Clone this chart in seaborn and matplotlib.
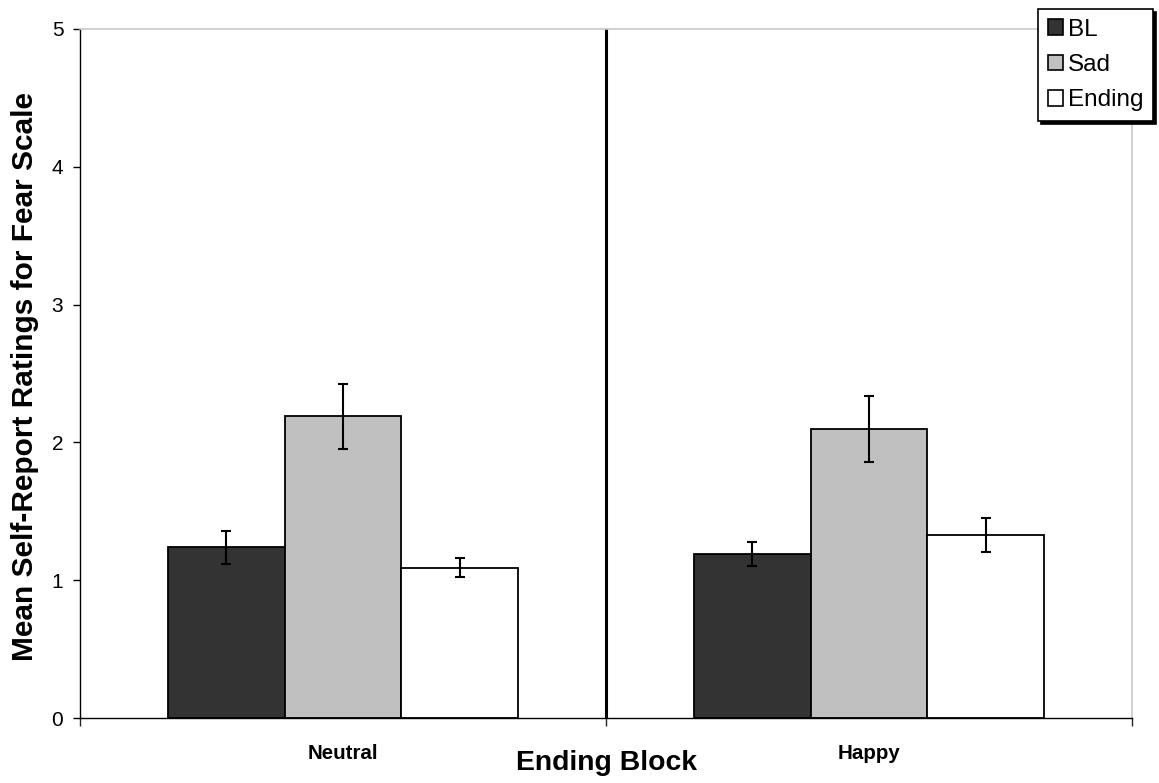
import pandas as pd
import matplotlib.pyplot as plt
import seaborn as sns
from matplotlib.patches import Patch

# --- data ---
blocks = ["Neutral", "Happy"]
phases = ["BL", "Sad", "Ending"]
bl_means = [1.24, 1.19]
sad_means = [2.19, 2.10]
end_means = [1.09, 1.33]
bl_err = [0.12, 0.09]
sad_err = [0.235, 0.24]
end_err = [0.07, 0.125]
colors = ["#333333", "#c0c0c0", "#ffffff"]

df = pd.DataFrame({
    "block": blocks * 3,
    "phase": [p for p in phases for _ in blocks],
    "mean": bl_means + sad_means + end_means,
    "err": bl_err + sad_err + end_err,
})

sns.set_theme(style="white")
plt.rcParams["font.family"] = ["Liberation Sans", "DejaVu Sans"]

fig = plt.figure(figsize=(11.59, 7.83), dpi=100)
ax = fig.add_axes([80 / 1159, 1 - 718 / 783, (1132 - 80) / 1159, (718 - 29) / 783])

sns.barplot(data=df, x="block", y="mean", hue="phase", order=blocks,
            hue_order=phases, palette=colors, width=0.667, errorbar=None,
            edgecolor="black", linewidth=1.3, saturation=1, legend=False, ax=ax)

# error bars centred on each drawn bar
for bar, (_, row) in zip(ax.patches, df.iterrows()):
    xc = bar.get_x() + bar.get_width() / 2
    ax.errorbar(xc, bar.get_height(), yerr=row["err"], fmt="none",
                ecolor="black", elinewidth=1.5, capsize=3.8, capthick=1.5)

ax.set_xlim(-0.5, 1.5)
ax.set_ylim(0, 5)
ax.set_yticks(range(6))
ax.axvline(0.5, color="black", linewidth=2.2)

for side in ["top", "right"]:
    ax.spines[side].set_color("#c8c8c8")
    ax.spines[side].set_linewidth(1.2)
for side in ["left", "bottom"]:
    ax.spines[side].set_color("black")
    ax.spines[side].set_linewidth(1.0)

ax.tick_params(axis="y", left=True, direction="out", length=5, width=1,
               labelsize=15, pad=7, colors="black")
ax.tick_params(axis="x", bottom=False, length=0, labelsize=14.8, pad=18.5,
               colors="black")
for lab in ax.get_xticklabels():
    lab.set_fontweight("bold")
ax.set_xticks([-0.5, 0.5, 1.5], minor=True)
ax.tick_params(axis="x", which="minor", bottom=True, direction="out",
               length=6, width=1)

ax.set_xlabel("Ending Block", fontsize=20.4, fontweight="bold", color="black")
ax.xaxis.set_label_coords(0.5, -(770 - 718) / 689)
ax.xaxis.label.set_verticalalignment("baseline")
ax.set_ylabel("Mean Self-Report Ratings for Fear Scale", fontsize=21.5,
              fontweight="bold", color="black")
ax.yaxis.set_label_coords(-(80 - 33) / 1052, 0.495)
ax.yaxis.label.set_verticalalignment("baseline")

handles = [Patch(facecolor=c, edgecolor="black", linewidth=1.2) for c in colors]
fig.legend(handles, phases, loc="upper left",
           bbox_to_anchor=(1038 / 1159, 1 - 9 / 783), fontsize=17.5,
           frameon=True, fancybox=False, shadow={"color": "black", "alpha": 1},
           edgecolor="black", framealpha=1, handlelength=0.62, handleheight=0.62,
           handletextpad=0.2, labelspacing=0.55, borderpad=0.4,
           borderaxespad=0)
leg = fig.legends[0]
leg.get_frame().set_linewidth(1.2)
for t in leg.get_texts():
    t.set_color("black")

fig.savefig("out.png", dpi=100)
